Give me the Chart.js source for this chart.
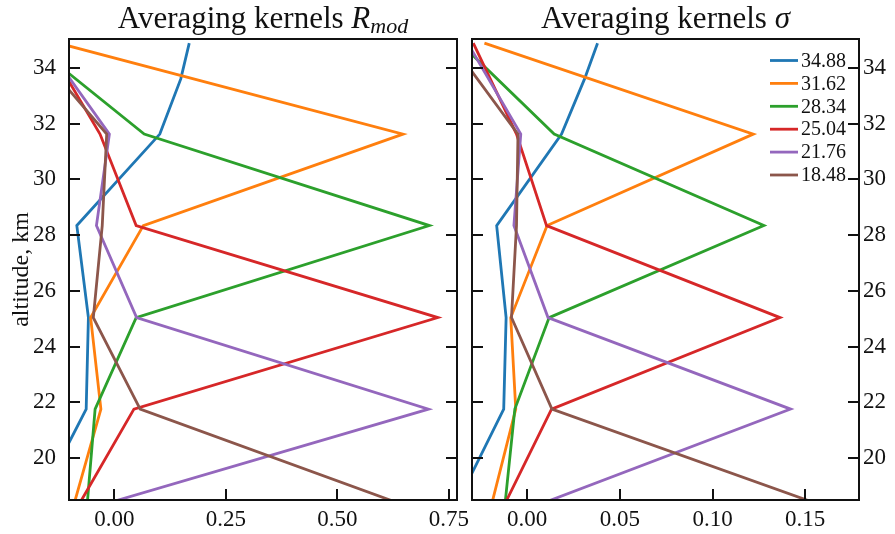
<!DOCTYPE html>
<html>
<head>
<meta charset="utf-8">
<script src="https://cdn.jsdelivr.net/npm/chart.js@4.4.0/dist/chart.umd.min.js"></script>
<style>
  body { margin: 0; background: #fff; }
  #wrap { position: relative; width: 895px; height: 534px; }
  canvas { position: absolute; top: 0; }
</style>
</head>
<body>
<div id="wrap">
  <canvas id="rmod" width="485" height="534" style="left:0"></canvas>
  <canvas id="sigma" width="430" height="534" style="left:465px"></canvas>
</div>
<script>
// altitude levels of the kernels (km)
const altitudes = [34.88, 31.62, 28.34, 25.04, 21.76, 18.48];
// the 34.88 km kernel has one more bend between the two top levels
const altitudesTop = [34.88, 33.6, 31.62, 28.34, 25.04, 21.76, 18.48];
const kernelNames = ['34.88', '31.62', '28.34', '25.04', '21.76', '18.48'];
const lineColors = ['#1f77b4', '#ff7f0e', '#2ca02c', '#d62728', '#9467bd', '#8c564b'];

// averaging kernels R_mod
const rmod3488 = [0.168, 0.149, 0.102, -0.084, -0.058, -0.063, -0.168];
const rmod3162 = [-0.126, 0.647, 0.065, -0.053, -0.030, -0.088];
const rmod2834 = [-0.186, 0.067, 0.706, 0.049, -0.043, -0.060];
const rmod2504 = [-0.152, -0.032, 0.049, 0.725, 0.044, -0.074];
const rmod2176 = [-0.156, -0.011, -0.040, 0.050, 0.704, 0.005];
const rmod1848 = [-0.191, -0.017, -0.027, -0.047, 0.058, 0.621];

// averaging kernels sigma
const sigma3488 = [0.038, 0.031, 0.0186, -0.0164, -0.0113, -0.0126, -0.037];
const sigma3162 = [-0.023, 0.122, 0.0108, -0.0088, -0.0061, -0.0186];
const sigma2834 = [-0.036, 0.0146, 0.1277, 0.0119, -0.0066, -0.0117];
const sigma2504 = [-0.029, -0.0057, 0.0105, 0.1364, 0.0132, -0.0111];
const sigma2176 = [-0.032, -0.0034, -0.0071, 0.0113, 0.1421, 0.0122];
const sigma1848 = [-0.041, -0.0049, -0.0057, -0.0084, 0.0134, 0.1516];

const altTicks = [20, 22, 24, 26, 28, 30, 32, 34];
const rmodTicks = [0, 0.25, 0.5, 0.75];
const sigmaTicks = [0, 0.05, 0.1, 0.15];

const SERIF = '"Liberation Serif", "DejaVu Serif", serif';
const INK = '#111';

function buildSets(cols) {
  return cols.map((vals, i) => {
    const alts = vals.length === altitudesTop.length ? altitudesTop : altitudes;
    return {
      label: kernelNames[i],
      data: vals.map((v, k) => ({ x: v, y: alts[k] })),
      borderColor: lineColors[i],
      backgroundColor: lineColors[i],
      borderWidth: 2.8,
      pointRadius: 0,
      tension: 0,
      fill: false,
      clip: 0,
      order: cols.length - i
    };
  });
}

function line(ctx, x1, y1, x2, y2) {
  ctx.beginPath(); ctx.moveTo(x1, y1); ctx.lineTo(x2, y2); ctx.stroke();
}

// frame with inward ticks, title, optional y label and legend
function framePlugin(cfg) {
  return {
    id: 'frame',
    afterDraw(chart) {
      const { ctx, chartArea: a, scales: { x, y } } = chart;
      ctx.save();
      ctx.strokeStyle = INK;
      ctx.lineWidth = 2;
      y.ticks.forEach(t => {
        const py = Math.round(y.getPixelForValue(t.value));
        line(ctx, a.left, py, a.left + 11, py);
        line(ctx, a.right - 11, py, a.right, py);
      });
      x.ticks.forEach(t => {
        const px = Math.round(x.getPixelForValue(t.value));
        line(ctx, px, a.bottom, px, a.bottom - 11);
      });
      ctx.strokeRect(a.left, a.top, a.right - a.left, a.bottom - a.top);

      // title
      ctx.fillStyle = INK;
      ctx.textAlign = 'left';
      ctx.textBaseline = 'alphabetic';
      let w = 0;
      cfg.title.forEach(p => { ctx.font = p.font; p.w = ctx.measureText(p.text).width; w += p.w; });
      let tx = (a.left + a.right) / 2 - w / 2;
      cfg.title.forEach(p => { ctx.font = p.font; ctx.fillText(p.text, tx, 28 + (p.dy || 0)); tx += p.w; });

      if (cfg.yLabel) {
        ctx.save();
        ctx.translate(22, (a.top + a.bottom) / 2);
        ctx.rotate(-Math.PI / 2);
        ctx.font = '24px ' + SERIF;
        ctx.textAlign = 'center';
        ctx.textBaseline = 'middle';
        ctx.fillText(cfg.yLabel, 0, 0);
        ctx.restore();
      }

      if (cfg.legend) {
        ctx.font = '20px ' + SERIF;
        ctx.textBaseline = 'middle';
        chart.data.datasets.forEach((ds, i) => {
          const ly = 60.5 + i * 22.9;
          ctx.strokeStyle = ds.borderColor;
          ctx.lineWidth = 2.8;
          line(ctx, cfg.legend.x, ly, cfg.legend.x + 28, ly);
          ctx.fillText(ds.label, cfg.legend.x + 31, ly + 1);
        });
      }
      ctx.restore();
    }
  };
}

function makeChart(id, cols, xMin, xMax, xTicks, yPos, yWidth, pad, cfg) {
  return new Chart(document.getElementById(id), {
    type: 'line',
    data: { datasets: buildSets(cols) },
    options: {
      responsive: false,
      animation: false,
      layout: { padding: pad },
      plugins: { legend: { display: false }, tooltip: { enabled: false }, title: { display: false } },
      scales: {
        x: {
          type: 'linear', min: xMin, max: xMax,
          afterBuildTicks: s => { s.ticks = xTicks.map(v => ({ value: v })); },
          afterFit: s => { s.height = 34; },
          grid: { drawOnChartArea: false, drawTicks: false },
          border: { display: false },
          ticks: {
            autoSkip: false, maxRotation: 0, padding: 6, color: INK,
            font: { family: SERIF, size: 23 },
            callback: v => Number(v).toFixed(2)
          }
        },
        y: {
          type: 'linear', position: yPos, min: 18.5, max: 35.03,
          afterBuildTicks: s => { s.ticks = altTicks.map(v => ({ value: v })); },
          afterFit: s => { s.width = yWidth; },
          grid: { drawOnChartArea: false, drawTicks: false },
          border: { display: false },
          ticks: {
            autoSkip: false, padding: yPos === 'left' ? 13 : 4, color: INK,
            font: { family: SERIF, size: 23 },
            callback: v => String(v)
          }
        }
      }
    },
    plugins: [framePlugin(cfg)]
  });
}

makeChart('rmod',
  [rmod3488, rmod3162, rmod2834, rmod2504, rmod2176, rmod1848],
  -0.1015, 0.768, rmodTicks, 'left', 69,
  { top: 39, right: 28, left: 0, bottom: 0 },
  {
    title: [
      { text: 'Averaging kernels ', font: '31px ' + SERIF },
      { text: 'R', font: 'italic 31px ' + SERIF },
      { text: 'mod', font: 'italic 22px ' + SERIF, dy: 5 }
    ],
    yLabel: 'altitude, km'
  });

makeChart('sigma',
  [sigma3488, sigma3162, sigma2834, sigma2504, sigma2176, sigma1848],
  -0.0297, 0.179, sigmaTicks, 'right', 36,
  { top: 39, left: 7, right: 0, bottom: 0 },
  {
    title: [
      { text: 'Averaging kernels ', font: '31px ' + SERIF },
      { text: 'σ', font: 'italic 31px ' + SERIF }
    ],
    legend: { x: 305 }
  });
</script>
</body>
</html>
